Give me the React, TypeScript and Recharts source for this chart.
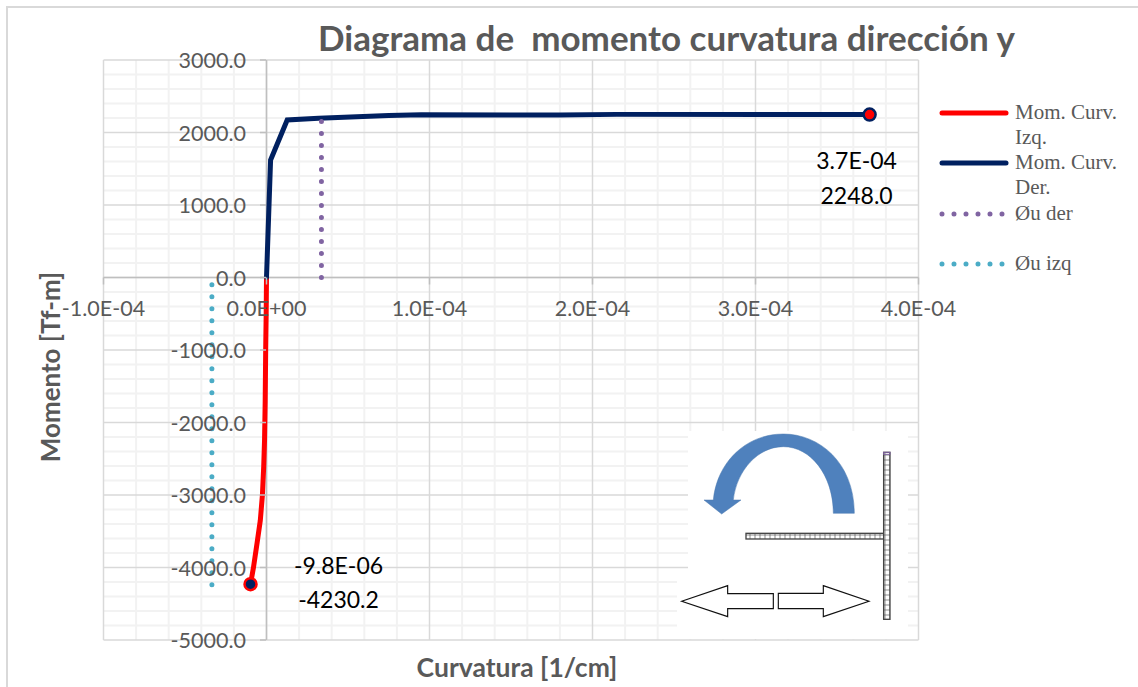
import { ComposedChart, CartesianGrid, XAxis, YAxis, Line, Legend, ReferenceLine } from "recharts";

const xTicks = [-1e-4, 0, 1e-4, 2e-4, 3e-4, 4e-4];
const yTicks = [3000, 2000, 1000, 0, -1000, -2000, -3000, -4000, -5000];
const xMinor = [-8e-5, -6e-5, -4e-5, -2e-5, 2e-5, 4e-5, 6e-5, 8e-5, 1.2e-4, 1.4e-4, 1.6e-4, 1.8e-4, 2.2e-4, 2.4e-4, 2.6e-4, 2.8e-4, 3.2e-4, 3.4e-4, 3.6e-4, 3.8e-4];
const yMinor = [2800, 2600, 2400, 2200, 1800, 1600, 1400, 1200, 800, 600, 400, 200, -200, -400, -600, -800, -1200, -1400, -1600, -1800, -2200, -2400, -2600, -2800, -3200, -3400, -3600, -3800, -4200, -4400, -4600, -4800];

const momCurvIzq = [
  { x: 0, y: 0 },
  { x: -2e-7, y: -500 },
  { x: -5e-7, y: -1000 },
  { x: -8e-7, y: -1700 },
  { x: -1.2e-6, y: -2241 },
  { x: -1.7e-6, y: -2600 },
  { x: -2.5e-6, y: -3000 },
  { x: -3.8e-6, y: -3350 },
  { x: -5.7e-6, y: -3650 },
  { x: -8e-6, y: -4000 },
  { x: -9.8e-6, y: -4230.2 },
];
const momCurvDer = [
  { x: 0, y: 0 },
  { x: 2.5e-6, y: 1620 },
  { x: 1.27e-5, y: 2172 },
  { x: 3.2e-5, y: 2195 },
  { x: 7.5e-5, y: 2235 },
  { x: 9.5e-5, y: 2245 },
  { x: 1.8e-4, y: 2240 },
  { x: 2.15e-4, y: 2250 },
  { x: 3.7e-4, y: 2248 },
];
const phiDer = [
  { x: 3.37e-5, y: 0 },
  { x: 3.37e-5, y: 2170 },
];
const phiIzq = [
  { x: -3.35e-5, y: -100 },
  { x: -3.35e-5, y: -4240 },
];

const SANS = "Lato, 'Open Sans', sans-serif";
const GREY = "#595959";
// written out long, recharts cuts a short repeating pattern before the line ends
const DOTTED = Array(40).fill("0 12").join(" ");

function sci(v: number) {
  const [m, e] = v.toExponential(1).split("e");
  const n = Math.abs(Number(e));
  return `${m}E${e[0] === "-" ? "-" : "+"}${n < 10 ? "0" : ""}${n}`;
}

const XTick = ({ x, y, payload }: any) => {
  const axisY = y - 362.5;
  return (
    <g>
      <line x1={x} x2={x} y1={axisY} y2={axisY + 7} stroke="#bfbfbf" strokeWidth={1.5} />
      <text x={x} y={axisY + 38} textAnchor="middle" fontFamily={SANS} fontSize={21.5} fill={GREY}>
        {sci(payload.value)}
      </text>
    </g>
  );
};

const YTick = ({ y, payload }: any) => (
  <g>
    <line x1={260} x2={266} y1={y} y2={y} stroke="#bfbfbf" strokeWidth={1.5} />
    <text x={246} y={y + 8} textAnchor="end" fontFamily={SANS} fontSize={21.5} fill={GREY}>
      {payload.value.toFixed(1)}
    </text>
  </g>
);

// marker + two-line label on the last point of a curve
const endDot = (last: number, fill: string, stroke: string, dx: number, dy1: number, dy2: number) => (p: any) => {
  if (p.index !== last) return <g key={p.key} />;
  return (
    <g key={p.key}>
      <circle cx={p.cx} cy={p.cy} r={6} fill={fill} stroke={stroke} strokeWidth={2.5} />
      <text x={p.cx + dx} y={p.cy + dy1} textAnchor="middle" fontFamily={SANS} fontSize={23} fill="#000">
        {sci(p.payload.x)}
      </text>
      <text x={p.cx + dx} y={p.cy + dy2} textAnchor="middle" fontFamily={SANS} fontSize={23} fill="#000">
        {p.payload.y.toFixed(1)}
      </text>
    </g>
  );
};

const LegendBox = ({ payload }: any) => (
  <div style={{ fontFamily: "'Liberation Serif', serif", fontSize: 21, color: GREY }}>
    {(payload || []).map((it: any) => (
      <div key={it.value} style={{ position: "relative", height: 50.3, paddingLeft: 77, lineHeight: "25px", boxSizing: "border-box" }}>
        <svg width={76} height={10} style={{ position: "absolute", left: 0, top: 8 }}>
          <line x1={4} x2={68} y1={5} y2={5} stroke={it.color} strokeWidth={5} strokeLinecap="round" strokeDasharray={it.payload.strokeDasharray} />
        </svg>
        <div style={{ width: 115 }}>{it.value}</div>
      </div>
    ))}
  </div>
);

function Inset() {
  return (
    <g>
      <rect x={688} y={431} width={220} height={208} fill="#fff" />
      <rect x={677} y={575} width={60} height={53} fill="#fff" />
      <g transform="translate(670,420) scale(0.3333)">
        <defs>
          <pattern id="cells" width={15} height={15} patternUnits="userSpaceOnUse" x={0} y={0}>
            <rect width={15} height={15} fill="#fff" stroke="#555" strokeWidth={2} />
          </pattern>
        </defs>
        <path
          d="M553 280 C553 130 450 42 340 42 C225 42 140 130 130 240 L102 240 L155 282 L213 240 L190 240 C200 150 265 80 340 80 C425 80 490 170 490 280 Z"
          fill="#4f81bd"
          stroke="#4a7ab0"
          strokeWidth={1.5}
        />
        <rect x={228} y={340} width={414} height={17} fill="url(#cells)" stroke="#444" strokeWidth={4} />
        <rect x={641} y={97} width={19} height={501} fill="url(#cells)" stroke="#444" strokeWidth={4} />
        <rect x={641} y={97} width={19} height={6} fill="none" stroke="#8064a2" strokeWidth={3} />
        <path d="M35 544 L173 497 L173 521 L310 521 L310 566 L173 566 L173 590 Z" fill="#fff" stroke="#111" strokeWidth={3.5} />
        <path d="M325 520 L460 520 L460 497 L597 544 L460 590 L460 566 L325 566 Z" fill="#fff" stroke="#111" strokeWidth={3.5} />
      </g>
    </g>
  );
}

export default function App() {
  return (
    <div style={{ position: "absolute", left: 0, top: 0, width: 1138, height: 687, background: "#fff", overflow: "hidden" }}>
      <ComposedChart width={1138} height={687} margin={{ top: 60, right: 219.5, bottom: 0, left: 0 }}>
        <CartesianGrid stroke="#f2f2f2" strokeWidth={2} horizontalValues={yMinor} verticalValues={xMinor} />
        <CartesianGrid stroke="#d9d9d9" strokeWidth={1.5} horizontalValues={yTicks} verticalValues={xTicks} />
        <XAxis type="number" dataKey="x" domain={[-1e-4, 4e-4]} ticks={xTicks} height={47} axisLine={false} tickLine={false} tickSize={0} tickMargin={0} tick={XTick} interval={0} allowDuplicatedCategory={false} />
        <YAxis type="number" dataKey="y" domain={[-5000, 3000]} ticks={yTicks} width={103.5} axisLine={false} tickLine={false} tick={YTick} interval={0} />
        <ReferenceLine x={0} stroke="#bfbfbf" strokeWidth={1.5} />
        <ReferenceLine y={0} stroke="#bfbfbf" strokeWidth={1.5} />
        <Line
          name="Mom. Curv. Izq."
          data={momCurvIzq}
          dataKey="y"
          stroke="#ff0000"
          strokeWidth={5}
          strokeLinecap="round"
          dot={endDot(momCurvIzq.length - 1, "#002060", "#ff0000", 88, -10, 24)}
          isAnimationActive={false}
        />
        <Line
          name="Mom. Curv. Der."
          data={momCurvDer}
          dataKey="y"
          stroke="#002060"
          strokeWidth={5}
          strokeLinecap="round"
          dot={endDot(momCurvDer.length - 1, "#ff0000", "#002060", -13, 54, 89)}
          isAnimationActive={false}
        />
        <Line name="Øu der" data={phiDer} dataKey="y" stroke="#8064a2" strokeWidth={5} strokeLinecap="round" strokeDasharray={DOTTED} dot={false} isAnimationActive={false} />
        <Line name="Øu izq" data={phiIzq} dataKey="y" stroke="#4bacc6" strokeWidth={5} strokeLinecap="round" strokeDasharray={DOTTED} dot={false} isAnimationActive={false} />
        <Legend
          layout="vertical"
          align="center"
          verticalAlign="middle"
          itemSorter={null}
          content={LegendBox}
          wrapperStyle={{ position: "absolute", left: 938, top: 100, width: 195, bottom: "auto", right: "auto" }}
        />
      </ComposedChart>
      <svg width={1138} height={687} style={{ position: "absolute", left: 0, top: 0, pointerEvents: "none" }}>
        <path d="M7 687 L7 7 L1138 7" fill="none" stroke="#d9d9d9" strokeWidth={2} />
        <text x={318} y={51} fontFamily={SANS} fontWeight={700} fontSize={35} fill={GREY} style={{ whiteSpace: "pre" }}>
          Diagrama de  momento curvatura dirección y
        </text>
        <text x={517} y={677} textAnchor="middle" fontFamily={SANS} fontWeight={700} fontSize={26.5} fill={GREY}>
          Curvatura [1/cm]
        </text>
        <text transform="translate(60,367) rotate(-90)" textAnchor="middle" fontFamily={SANS} fontWeight={700} fontSize={26} fill={GREY}>
          Momento [Tf-m]
        </text>
        <Inset />
      </svg>
    </div>
  );
}
